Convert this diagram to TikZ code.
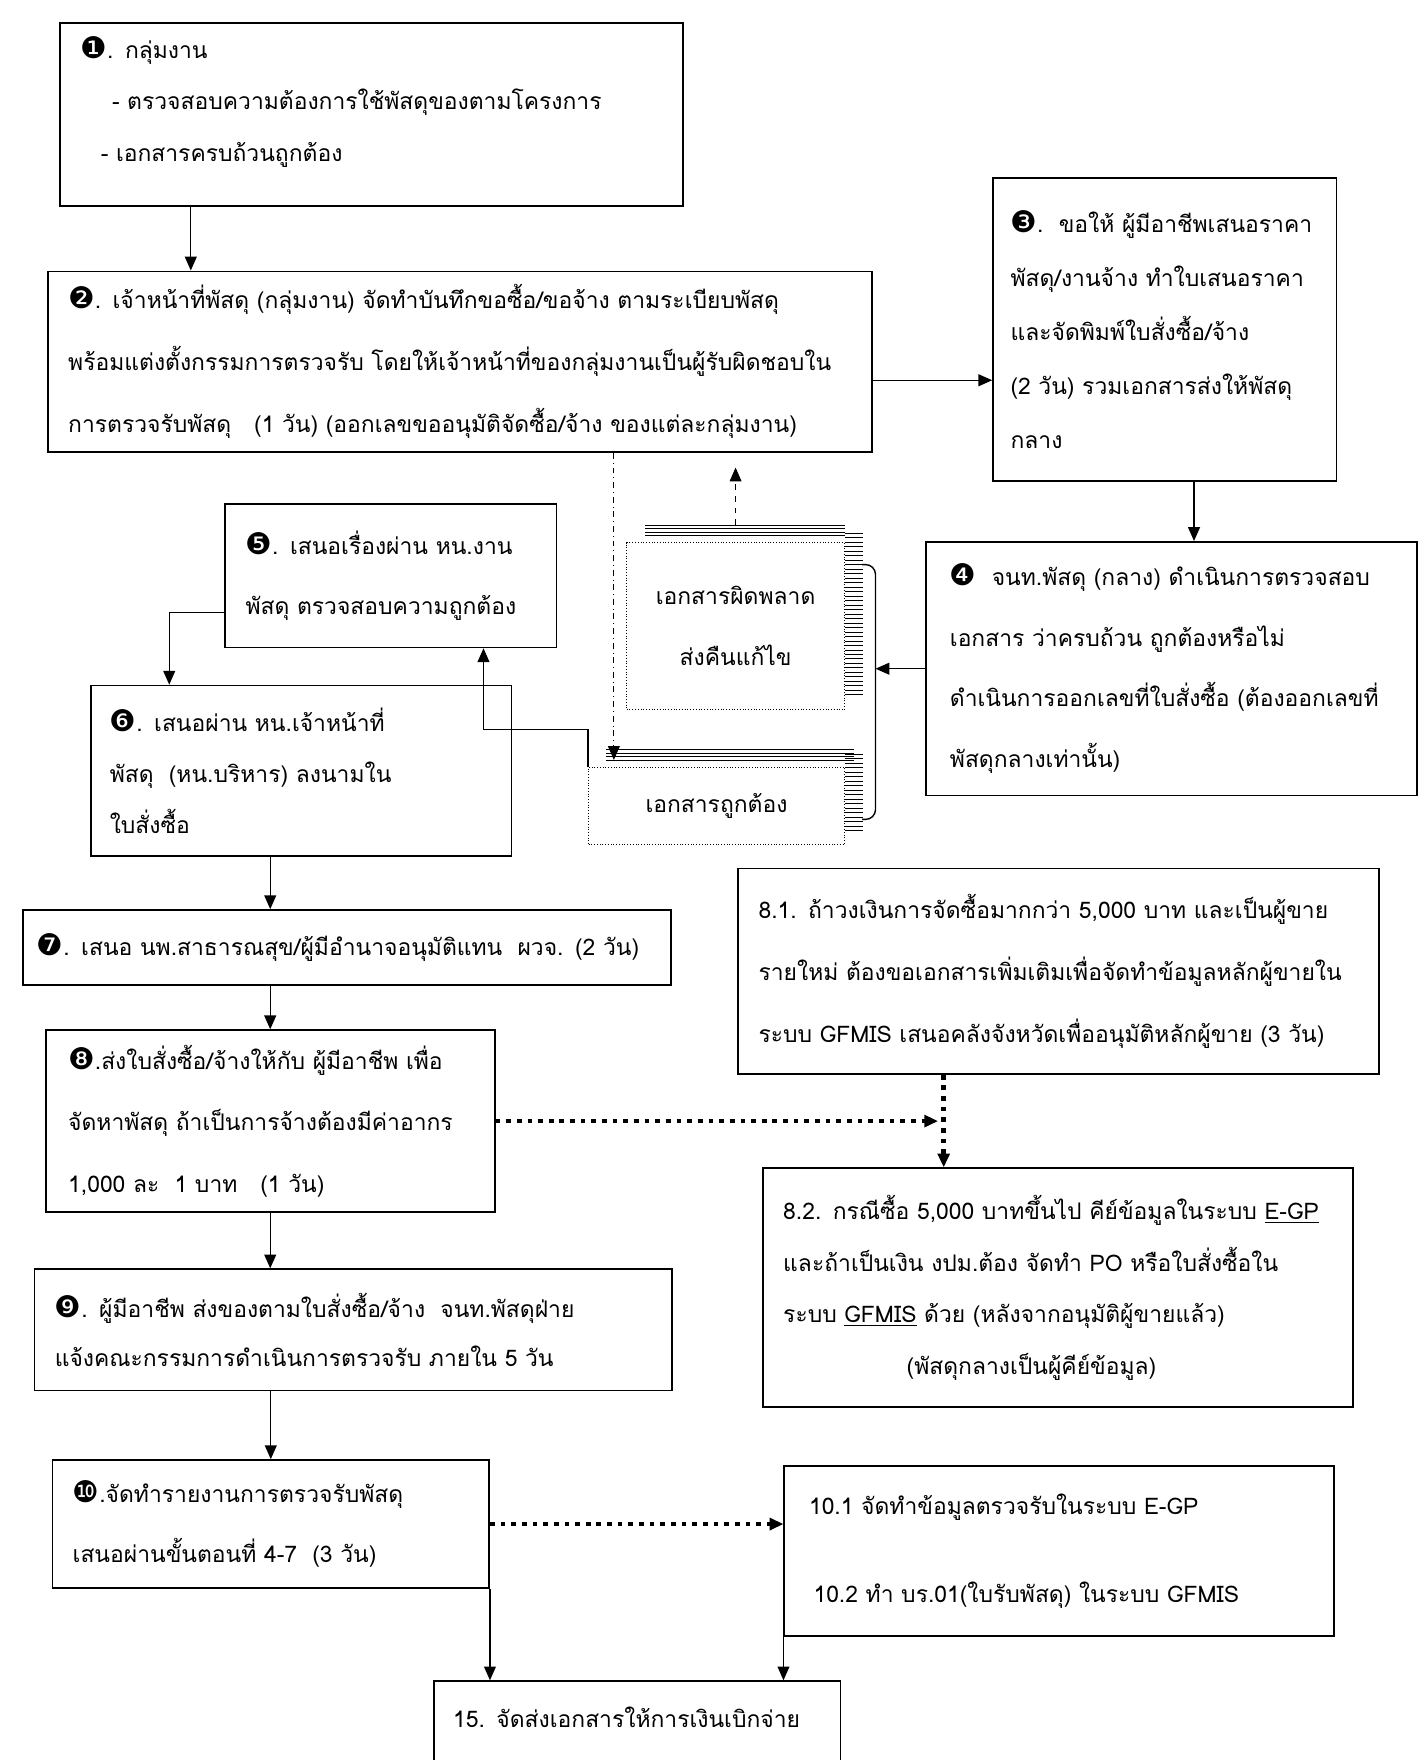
\documentclass[tikz,border=0pt]{standalone}
\usepackage{fontspec}
\newfontfamily\thaifont[Script=Thai]{Loma}
\newfontfamily\dingfont[Scale=1.3]{DejaVu Sans}
\usetikzlibrary{arrows.meta}
\begin{document}
\begin{tikzpicture}[x=0.02cm,y=-0.02cm,
    >={Triangle[length=7pt,width=6pt]},
    ls/.style={font=\thaifont\fontsize{11.6}{#1}\selectfont},
    procbox/.style={draw,line width=0.9pt,anchor=north west,align=left,inner xsep=0.36cm,inner ysep=0pt,ls=28pt},
    docbox/.style={draw,densely dotted,thin,anchor=north west,align=center,inner sep=0pt,ls=31pt},
    link/.style={line width=0.7pt},
    dotline/.style={line width=2.4pt,dash pattern=on 2.4pt off 3pt}]
    \useasboundingbox (0,0) rectangle (1267,1568);
    % riquadri del flusso
    \node[procbox,ls=26pt,minimum width=11.1cm,minimum height=3.26cm,text width=10.38cm] (b1) at (53,20)
      {{\dingfont ❶}. กลุ่มงาน\\\hspace*{0.56cm}- ตรวจสอบความต้องการใช้พัสดุของตามโครงการ\\\hspace*{0.36cm}- เอกสารครบถ้วนถูกต้อง\\[-10pt]\mbox{}};
    \node[procbox,ls=31.5pt,minimum width=14.68cm,minimum height=3.22cm,text width=13.96cm] (b2) at (42,241)
      {{\dingfont ❷}. เจ้าหน้าที่พัสดุ (กลุ่มงาน) จัดทำบันทึกขอซื้อ/ขอจ้าง ตามระเบียบพัสดุ\\พร้อมแต่งตั้งกรรมการตรวจรับ โดยให้เจ้าหน้าที่ของกลุ่มงานเป็นผู้รับผิดชอบใน\\การตรวจรับพัสดุ\quad (1 วัน) (ออกเลขขออนุมัติจัดซื้อ/จ้าง ของแต่ละกลุ่มงาน)};
    \node[procbox,ls=27.3pt,minimum width=6.12cm,minimum height=5.4cm,text width=5.5cm,inner xsep=0.31cm] (b3) at (884,158)
      {{\dingfont ❸}.\ \ ขอให้ ผู้มีอาชีพเสนอราคา\\พัสดุ/งานจ้าง ทำใบเสนอราคา\\และจัดพิมพ์ใบสั่งซื้อ/จ้าง\\(2 วัน) รวมเอกสารส่งให้พัสดุ\\กลาง};
    \node[procbox,ls=30.7pt,minimum width=8.76cm,minimum height=4.52cm,text width=7.9cm,inner xsep=0.43cm] (b4) at (824,482)
      {{\dingfont ❹}\ \ จนท.พัสดุ (กลาง) ดำเนินการตรวจสอบ\\เอกสาร ว่าครบถ้วน ถูกต้องหรือไม่\\ดำเนินการออกเลขที่ใบสั่งซื้อ (ต้องออกเลขที่\\พัสดุกลางเท่านั้น)};
    \node[procbox,ls=30.7pt,minimum width=5.9cm,minimum height=2.56cm,text width=5.18cm] (b5) at (200,448)
      {{\dingfont ❺}. เสนอเรื่องผ่าน หน.งาน\\พัสดุ ตรวจสอบความถูกต้อง};
    \node[procbox,ls=25.9pt,minimum width=7.5cm,minimum height=3.04cm,text width=6.82cm,inner xsep=0.34cm] (b6) at (80,610)
      {{\dingfont ❻}. เสนอผ่าน หน.เจ้าหน้าที่\\พัสดุ\ \ (หน.บริหาร) ลงนามใน\\ใบสั่งซื้อ};
    \node[procbox,minimum width=11.54cm,minimum height=1.34cm,text width=11.06cm,inner xsep=0.24cm] (b7) at (20,810)
      {{\dingfont ❼}. เสนอ นพ.สาธารณสุข/ผู้มีอำนาจอนุมัติแทน\ \ ผวจ. (2 วัน)};
    \node[procbox,ls=31.3pt,minimum width=8cm,minimum height=3.24cm,text width=7.2cm,inner xsep=0.4cm] (b8) at (40,917)
      {{\dingfont ❽}.ส่งใบสั่งซื้อ/จ้างให้กับ ผู้มีอาชีพ เพื่อ\\จัดหาพัสดุ ถ้าเป็นการจ้างต้องมีค่าอากร\\1,000 ละ\ \ 1 บาท\ \ \ (1 วัน)};
    \node[procbox,ls=24.5pt,minimum width=11.36cm,minimum height=2.16cm,text width=10.64cm] (b9) at (30,1130)
      {{\dingfont ❾}. ผู้มีอาชีพ ส่งของตามใบสั่งซื้อ/จ้าง\ \ จนท.พัสดุฝ่าย\\แจ้งคณะกรรมการดำเนินการตรวจรับ ภายใน 5 วัน};
    \node[procbox,ls=30.2pt,minimum width=7.78cm,minimum height=2.28cm,text width=7.06cm] (b10) at (46,1300)
      {{\dingfont ❿}.จัดทำรายงานการตรวจรับพัสดุ\\เสนอผ่านขั้นตอนที่ 4-7\ \ (3 วัน)};
    \node[procbox,ls=31.3pt,minimum width=11.42cm,minimum height=3.66cm,text width=10.7cm] (b81) at (657,773)
      {8.1. ถ้าวงเงินการจัดซื้อมากกว่า 5,000 บาท และเป็นผู้ขาย\\รายใหม่ ต้องขอเอกสารเพิ่มเติมเพื่อจัดทำข้อมูลหลักผู้ขายใน\\ระบบ GFMIS เสนอคลังจังหวัดเพื่ออนุมัติหลักผู้ขาย (3 วัน)};
    \node[procbox,ls=26.2pt,minimum width=10.52cm,minimum height=4.26cm,text width=9.8cm] (b82) at (679,1040)
      {8.2. กรณีซื้อ 5,000 บาทขึ้นไป คีย์ข้อมูลในระบบ \underline{E-GP}\\และถ้าเป็นเงิน งปม.ต้อง จัดทำ PO หรือใบสั่งซื้อใน\\ระบบ \underline{GFMIS} ด้วย (หลังจากอนุมัติผู้ขายแล้ว)\\\hspace*{2.2cm}(พัสดุกลางเป็นผู้คีย์ข้อมูล)};
    \node[procbox,ls=44.4pt,minimum width=9.8cm,minimum height=3.04cm,text width=8.92cm,inner xsep=0.44cm] (b101) at (698,1305)
      {10.1 จัดทำข้อมูลตรวจรับในระบบ E-GP\\\hspace*{0.08cm}10.2 ทำ บร.01(ใบรับพัสดุ) ในระบบ GFMIS};
    \node[procbox,minimum width=7.24cm,text width=6.56cm,inner xsep=0.34cm,inner ysep=0.45cm,text depth=2.2cm] (b15) at (386,1497)
      {15. จัดส่งเอกสารให้การเงินเบิกจ่าย};
    % documenti
    \node[docbox,minimum width=3.88cm,minimum height=2.98cm] (err) at (558,483) {เอกสารผิดพลาด\\ส่งคืนแก้ไข};
    \node[docbox,minimum width=4.56cm,minimum height=1.38cm] (ok) at (524,683) {เอกสารถูกต้อง};
    \foreach \k in {0,1,2,3} \draw[thin] ([shift={(17,-15+3*\k)}]err.north west) -- ([shift={(0,-15+3*\k)}]err.north east); %pila sopra
    \foreach \k in {0,...,36} \draw[thin] ([shift={(0,-8+4*\k)}]err.north east) -- ++(16,0); %pila a destra
    \foreach \k in {0,1,2,3} \draw[thin] ([shift={(16,-15+3*\k)}]ok.north west) -- ([shift={(8,-15+3*\k)}]ok.north east);
    \foreach \k in {0,...,17} \draw[thin] ([shift={(0,-11+4*\k)}]ok.north east) -- ++(16,0);
    \coordinate (brk) at (780,596);
    \draw[link,rounded corners=5pt] (768,503) -| (brk) |- (768,730); %parentesi
    % frecce
    \draw[->,link] ([xshift=2.34cm]b1.south west) -- ([xshift=2.34cm]b1.south west |- b2.north);
    \draw[->,link] ([yshift=-0.33cm]b2.east) -- ([yshift=-0.33cm]b2.east -| b3.west);
    \draw[->,link] ([xshift=0.52cm]b3.south) -- ([xshift=0.52cm]b3.south |- b4.north);
    \draw[->,link] (b4.west) -- (b4.west -| brk);
    \draw[->,thin,dashed,shorten >=0.56cm] ([yshift=0.3cm]err.north) -- ([yshift=0.3cm]err.north |- b2.south);
    \draw[->,thin,dash dot,shorten >=0.12cm] ([xshift=10.1cm]b2.south west) -- ([xshift=10.1cm]b2.south west |- ok.north);
    \draw[->,link] (ok.north west) -- ++(0,-33) -| ([xshift=1.65cm]b5.south);
    \draw[->,link] ([yshift=-0.66cm]b5.west) -| ([xshift=-2.35cm]b6.north);
    \draw[->,link] (b6.south -| b8.north) -- (b7.north -| b8.north);
    \draw[->,link] (b7.south -| b8.north) -- (b8.north);
    \draw[->,link] (b8.south) -- (b8.south |- b9.north);
    \draw[->,link] (b9.south -| b10.north) -- (b10.north);
    \coordinate (jn) at ([xshift=-2.05cm]b81.south |- b8.east);
    \draw[->,dotline] (b8.east) -- ([xshift=-0.1cm]jn);
    \draw[->,dotline] ([xshift=-2.05cm]b81.south) -- ([xshift=-2.05cm]b81.south |- b82.north);
    \draw[->,dotline] (b10.east) -- (b10.east -| b101.west);
    \draw[->,link] (b10.south east) -- (b10.south east |- b15.north);
    \draw[->,link] (b101.south west) -- (b101.south west |- b15.north);
\end{tikzpicture}
\end{document}
